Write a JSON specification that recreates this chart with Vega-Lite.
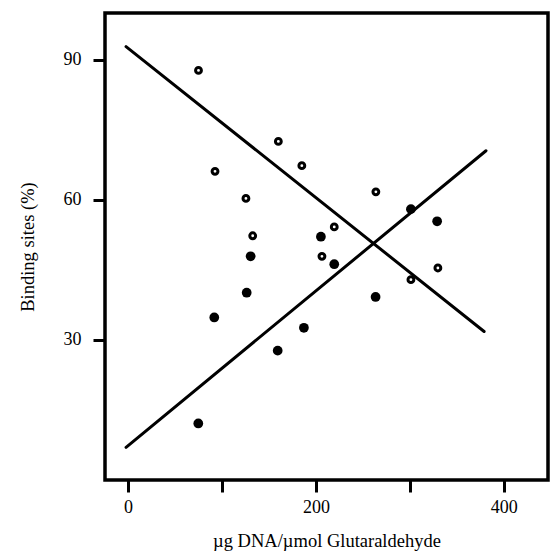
{
  "$schema": "https://vega.github.io/schema/vega-lite/v6.json",
  "autosize": "none",
  "padding": {"left": 105, "top": 13, "right": 2, "bottom": 80},
  "width": 443,
  "height": 467,
  "background": "white",
  "config": {
    "view": {"stroke": "#000", "strokeWidth": 3.5},
    "font": "Liberation Serif",
    "axis": {
      "grid": false,
      "domain": false,
      "tickColor": "#000",
      "tickWidth": 3,
      "tickSize": 12,
      "labelColor": "#000",
      "labelFont": "Liberation Serif",
      "labelFontSize": 18,
      "titleColor": "#000",
      "titleFont": "Liberation Serif",
      "titleFontSize": 18.5,
      "titleFontWeight": "normal"
    }
  },
  "datasets": {
    "pts": [
      {"x": 75, "y": 87.7, "series": "open"},
      {"x": 160, "y": 72.5, "series": "open"},
      {"x": 185, "y": 67.3, "series": "open"},
      {"x": 92.6, "y": 66.1, "series": "open"},
      {"x": 125.5, "y": 60.3, "series": "open"},
      {"x": 132.7, "y": 52.3, "series": "open"},
      {"x": 219.5, "y": 54.2, "series": "open"},
      {"x": 263.8, "y": 61.7, "series": "open"},
      {"x": 206.4, "y": 47.9, "series": "open"},
      {"x": 329.8, "y": 45.4, "series": "open"},
      {"x": 301.1, "y": 42.9, "series": "open"},
      {"x": 205.3, "y": 52.1, "series": "filled"},
      {"x": 301.1, "y": 58.0, "series": "filled"},
      {"x": 329.0, "y": 55.4, "series": "filled"},
      {"x": 130.5, "y": 47.9, "series": "filled"},
      {"x": 219.5, "y": 46.2, "series": "filled"},
      {"x": 126.3, "y": 40.1, "series": "filled"},
      {"x": 263.5, "y": 39.2, "series": "filled"},
      {"x": 187.2, "y": 32.6, "series": "filled"},
      {"x": 159.3, "y": 27.7, "series": "filled"},
      {"x": 91.8, "y": 34.8, "series": "filled"},
      {"x": 74.8, "y": 12.1, "series": "filled"}
    ],
    "lines": [
      {"x": -2.1, "y": 92.8, "line": "desc"},
      {"x": 379, "y": 31.8, "line": "desc"},
      {"x": -2.1, "y": 7.0, "line": "asc"},
      {"x": 381, "y": 70.5, "line": "asc"}
    ]
  },
  "encoding": {
    "x": {
      "field": "x", "type": "quantitative",
      "scale": {"domain": [-24.5, 447], "nice": false, "zero": false},
      "axis": {
        "title": "µg DNA/µmol Glutaraldehyde",
        "values": [0, 100, 200, 300, 400],
        "labelExpr": "datum.value % 200 === 0 ? datum.label : ''",
        "labelPadding": 6,
        "titlePadding": 15
      }
    },
    "y": {
      "field": "y", "type": "quantitative",
      "scale": {"domain": [0, 100], "nice": false},
      "axis": {
        "title": "Binding sites (%)",
        "values": [30, 60, 90],
        "labelPadding": 12,
        "titlePadding": 26
      }
    }
  },
  "layer": [
    {
      "data": {"name": "lines"},
      "mark": {"type": "line", "color": "#000", "strokeWidth": 3, "strokeCap": "round"},
      "encoding": {"detail": {"field": "line"}}
    },
    {
      "data": {"name": "pts"},
      "transform": [{"filter": "datum.series === 'open'"}],
      "mark": {"type": "point", "shape": "circle", "filled": false, "stroke": "#000", "strokeWidth": 3, "size": 34, "opacity": 1, "fill": "white", "fillOpacity": 1}
    },
    {
      "data": {"name": "pts"},
      "transform": [{"filter": "datum.series === 'filled'"}],
      "mark": {"type": "point", "shape": "circle", "filled": true, "color": "#000", "size": 95, "opacity": 1}
    }
  ]
}
